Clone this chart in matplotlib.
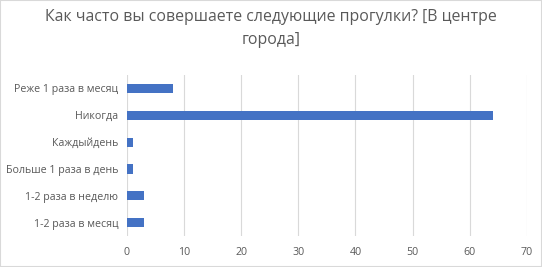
import matplotlib
matplotlib.use("Agg")
import matplotlib.pyplot as plt

# ответы снизу вверх, как в исходной диаграмме
categories = ["1-2 раза в месяц", "1-2 раза в неделю", "Больше 1 раза в день",
              "Каждыйдень", "Никогда", "Реже 1 раза в месяц"]
values = [3, 3, 1, 1, 64, 8]
xticks = [0, 10, 20, 30, 40, 50, 60, 70]

plt.rcParams['font.family'] = ['Open Sans', 'DejaVu Sans']

fig = plt.figure(figsize=(5.42, 2.67), dpi=100)
ax = fig.add_axes([0.234, 0.116, 0.738, 0.603])

ax.barh(categories, values, height=0.34, color="#4472C4", zorder=3)

ax.set_xlim(0, 70)
ax.set_ylim(-0.5, len(categories) - 0.5)
ax.set_xticks(xticks)
ax.grid(axis="x", color="#D9D9D9", linewidth=0.8, zorder=0)
for s in ax.spines.values():
    s.set_visible(False)
ax.tick_params(length=0, labelsize=7.7, colors="#595959", pad=6)
ax.tick_params(axis="x", pad=8)

fig.suptitle("Как часто вы совершаете следующие прогулки? [В центре\nгорода]",
             y=0.965, fontsize=11.4, color="#595959", linespacing=1.55)

fig.patches.append(plt.Rectangle((0, 0), 1, 1, transform=fig.transFigure,
                                 fill=False, edgecolor="#D9D9D9", linewidth=1.5))

fig.savefig("out.png", dpi=100)
